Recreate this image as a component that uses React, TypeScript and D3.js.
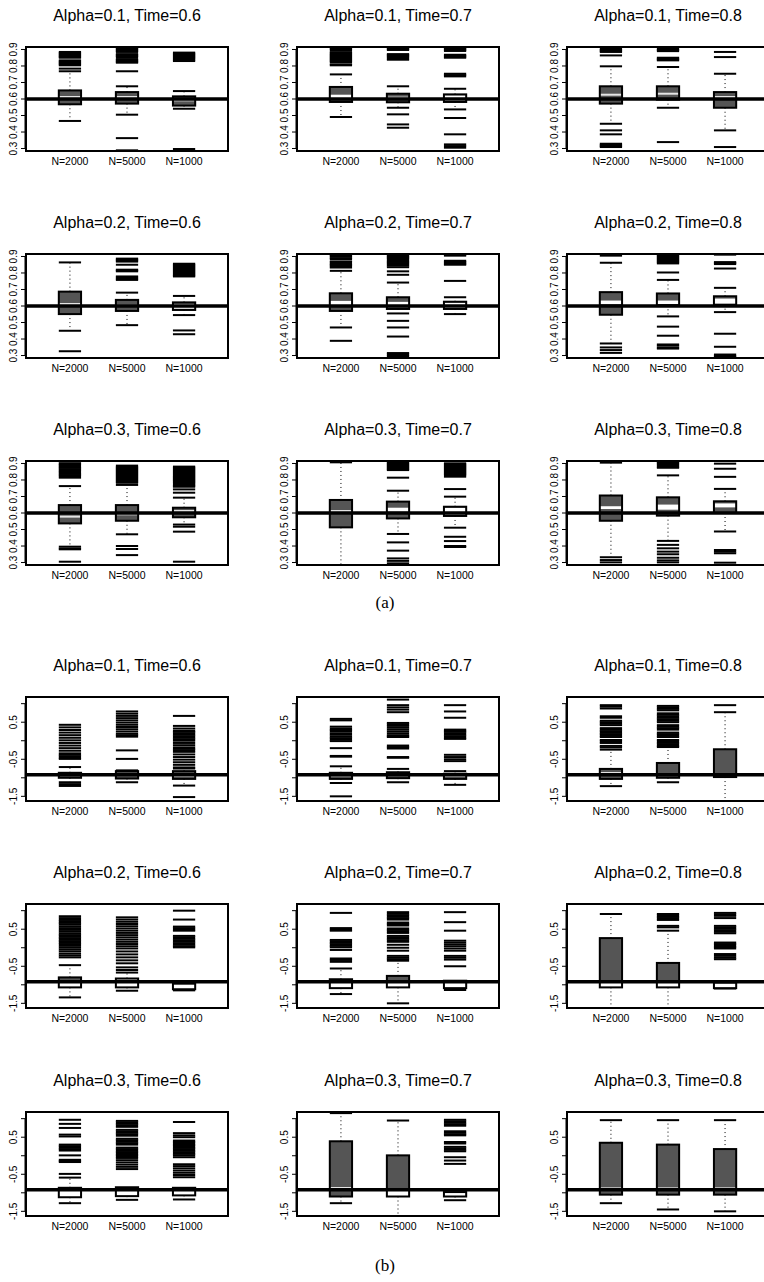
import * as d3 from "d3";

const groups = ["N=2000", "N=5000", "N=1000"];
const alphas = ["0.1", "0.2", "0.3"];
const times = ["0.6", "0.7", "0.8"];

const ticksA = [0.3, 0.4, 0.5, 0.6, 0.7, 0.8, 0.9];
const tickLabelsA = ["0.3", "0.4", "0.5", "0.6", "0.7", "0.8", "0.9"];
const ticksB = [-1.5, -1, -0.5, 0, 0.5, 1];
const tickLabelsB = ["-1.5", "", "-0.5", "", "0.5", ""];
const domainA = [0.285, 0.915];
const domainB = [-1.626, 1.18];
const trueA = 0.6;
const trueB = -0.92;

// per box: [lower whisker, q1, median band low, median band high, q3, upper whisker]
const boxesA: number[][][] = [
  [[0.467, 0.568, 0.612, 0.612, 0.652, 0.768], [0.505, 0.572, 0.612, 0.612, 0.642, 0.677], [0.541, 0.56, 0.592, 0.592, 0.616, 0.648]],
  [[0.491, 0.582, 0.605, 0.626, 0.673, 0.749], [0.547, 0.58, 0.608, 0.608, 0.632, 0.677], [0.537, 0.582, 0.587, 0.622, 0.628, 0.662]],
  [[0.45, 0.572, 0.626, 0.626, 0.677, 0.798], [0.547, 0.596, 0.632, 0.632, 0.677, 0.794], [0.41, 0.547, 0.612, 0.612, 0.642, 0.753]],
  [[0.45, 0.551, 0.612, 0.612, 0.687, 0.864], [0.484, 0.57, 0.602, 0.602, 0.637, 0.681], [0.545, 0.576, 0.583, 0.612, 0.622, 0.661]],
  [[0.47, 0.57, 0.606, 0.631, 0.677, 0.813], [0.555, 0.582, 0.592, 0.625, 0.653, 0.742], [0.551, 0.582, 0.588, 0.62, 0.626, 0.653]],
  [[0.373, 0.547, 0.612, 0.633, 0.684, 0.862], [0.537, 0.604, 0.612, 0.633, 0.676, 0.758], [0.563, 0.608, 0.61, 0.645, 0.659, 0.71]],
  [[0.396, 0.537, 0.578, 0.578, 0.648, 0.763], [0.471, 0.553, 0.592, 0.592, 0.648, 0.77], [0.53, 0.574, 0.612, 0.612, 0.632, 0.693]],
  [[0.278, 0.513, 0.612, 0.612, 0.679, 0.907], [0.473, 0.567, 0.608, 0.632, 0.669, 0.735], [0.511, 0.582, 0.59, 0.632, 0.638, 0.699]],
  [[0.332, 0.553, 0.624, 0.641, 0.706, 0.905], [0.431, 0.584, 0.62, 0.651, 0.695, 0.828], [0.488, 0.6, 0.634, 0.658, 0.671, 0.746]],
];

const outliersA: number[][][] = [
  [
    [0.885, 0.879, 0.873, 0.867, 0.861, 0.855, 0.85, 0.834, 0.828, 0.822, 0.816, 0.81, 0.804, 0.784],
    [0.909, 0.903, 0.897, 0.891, 0.885, 0.872, 0.866, 0.86, 0.854, 0.842, 0.836, 0.83, 0.824, 0.82, 0.768, 0.363, 0.289],
    [0.881, 0.875, 0.869, 0.863, 0.857, 0.851, 0.845, 0.838, 0.83, 0.297],
  ],
  [
    [0.909, 0.902, 0.895, 0.884, 0.877, 0.871, 0.865, 0.859, 0.853, 0.847, 0.841, 0.835, 0.829, 0.823, 0.81, 0.804],
    [0.909, 0.903, 0.897, 0.872, 0.866, 0.86, 0.853, 0.845, 0.838, 0.507, 0.446, 0.426],
    [0.909, 0.903, 0.897, 0.891, 0.868, 0.862, 0.856, 0.85, 0.753, 0.745, 0.737, 0.485, 0.386, 0.325, 0.315, 0.305],
  ],
  [
    [0.903, 0.897, 0.891, 0.885, 0.864, 0.41, 0.386, 0.329, 0.322, 0.315, 0.309],
    [0.903, 0.897, 0.89, 0.85, 0.844, 0.838, 0.834, 0.339],
    [0.885, 0.854, 0.309],
  ],
  [
    [0.326],
    [0.887, 0.881, 0.875, 0.869, 0.85, 0.82, 0.815, 0.81, 0.779, 0.772, 0.765, 0.758],
    [0.856, 0.85, 0.844, 0.838, 0.832, 0.826, 0.82, 0.814, 0.808, 0.802, 0.796, 0.79, 0.784, 0.779, 0.452, 0.429],
  ],
  [
    [0.911, 0.905, 0.899, 0.89, 0.884, 0.87, 0.864, 0.855, 0.848, 0.84, 0.833, 0.389],
    [0.907, 0.901, 0.895, 0.889, 0.882, 0.874, 0.867, 0.86, 0.852, 0.845, 0.835, 0.81, 0.789, 0.51, 0.47, 0.415, 0.315, 0.306, 0.297],
    [0.911, 0.905, 0.874, 0.868, 0.862, 0.855, 0.85, 0.752],
  ],
  [
    [0.905, 0.349, 0.333, 0.316],
    [0.912, 0.906, 0.9, 0.894, 0.888, 0.882, 0.876, 0.87, 0.864, 0.858, 0.803, 0.475, 0.42, 0.367, 0.36, 0.348, 0.342],
    [0.911, 0.866, 0.86, 0.854, 0.827, 0.432, 0.353, 0.306, 0.298, 0.291],
  ],
  [
    [0.911, 0.9, 0.894, 0.888, 0.88, 0.874, 0.866, 0.858, 0.852, 0.845, 0.838, 0.83, 0.822, 0.814, 0.385, 0.38, 0.305],
    [0.887, 0.879, 0.873, 0.867, 0.861, 0.855, 0.849, 0.843, 0.837, 0.831, 0.825, 0.819, 0.813, 0.807, 0.801, 0.795, 0.789, 0.783, 0.4, 0.382, 0.345],
    [0.881, 0.875, 0.869, 0.863, 0.857, 0.851, 0.845, 0.839, 0.833, 0.827, 0.821, 0.815, 0.809, 0.803, 0.797, 0.791, 0.785, 0.779, 0.771, 0.765, 0.759, 0.743, 0.723, 0.517, 0.487, 0.305],
  ],
  [
    [],
    [0.907, 0.901, 0.895, 0.889, 0.883, 0.877, 0.871, 0.865, 0.86, 0.814, 0.422, 0.372, 0.325, 0.31, 0.295],
    [0.901, 0.895, 0.889, 0.883, 0.877, 0.871, 0.865, 0.859, 0.853, 0.847, 0.841, 0.835, 0.829, 0.82, 0.745, 0.456, 0.43, 0.4, 0.394],
  ],
  [
    [0.315, 0.301],
    [0.915, 0.909, 0.903, 0.895, 0.888, 0.88, 0.874, 0.407, 0.386, 0.366, 0.35, 0.329, 0.313, 0.301],
    [0.899, 0.868, 0.819, 0.376, 0.366, 0.356, 0.299],
  ],
];

const boxesB: number[][][] = [
  [[-1.22, -1.0, -0.93, -0.93, -0.865, -0.71], [-1.12, -1.02, -0.93, -0.93, -0.82, -0.8], [-1.21, -1.03, -0.95, -0.95, -0.82, -0.75]],
  [[-1.14, -1.03, -0.94, -0.94, -0.865, -0.69], [-1.12, -1.01, -0.93, -0.93, -0.85, -0.76], [-1.19, -1.03, -0.95, -0.95, -0.89, -0.82]],
  [[-1.225, -1.03, -0.92, -0.87, -0.76, -0.24], [-1.12, -1.0, -0.93, -0.9, -0.6, -0.17], [-1.66, -0.98, -0.93, -0.93, -0.23, 0.77]],
  [[-1.34, -1.07, -1.07, -0.93, -0.8, -0.47], [-1.16, -1.07, -1.07, -0.85, -0.83, -0.67], [-1.15, -1.12, -1.12, -0.97, -0.97, -0.97]],
  [[-1.25, -1.09, -1.09, -0.93, -0.85, -0.56], [-1.5, -1.07, -1.07, -0.93, -0.76, -0.35], [-1.14, -1.09, -1.09, -0.95, -0.89, -0.89]],
  [[-1.66, -1.07, -1.07, -0.93, 0.26, 0.91], [-1.66, -1.07, -1.07, -0.93, -0.41, 0.46], [-1.1, -1.09, -1.09, -0.94, -0.94, -0.94]],
  [[-1.28, -1.12, -1.12, -0.87, -0.865, -0.59], [-1.19, -1.09, -1.09, -0.87, -0.85, -0.85], [-1.18, -1.07, -1.07, -0.87, -0.865, -0.865]],
  [[-1.28, -1.1, -0.87, -0.87, 0.39, 1.15], [-1.66, -1.1, -1.1, -0.92, 0.01, 0.95], [-1.2, -1.1, -1.1, -0.98, -0.98, -0.98]],
  [[-1.28, -1.05, -0.88, -0.88, 0.35, 0.96], [-1.45, -1.05, -0.88, -0.88, 0.3, 0.96], [-1.5, -1.05, -0.88, -0.88, 0.18, 0.96]],
];

const outliersB: number[][][] = [
  [
    [0.43, 0.36, 0.29, 0.22, 0.15, 0.08, 0.01, -0.06, -0.13, -0.2, -0.27, -0.34, -0.38, -0.42, -0.46, -0.49, -1.12, -1.17],
    [0.79, 0.73, 0.67, 0.61, 0.55, 0.49, 0.43, 0.37, 0.31, 0.25, 0.19, 0.15, 0.11, -0.26, -0.49],
    [0.67, 0.4, 0.33, 0.27, 0.24, 0.2, 0.16, 0.12, 0.08, 0.04, 0.0, -0.06, -0.12, -0.18, -0.22, -0.26, -0.3, -0.37, -0.44, -0.51, -0.58, -0.65, -0.72, -1.52],
  ],
  [
    [0.59, 0.55, 0.38, 0.33, 0.29, 0.25, 0.2, 0.16, 0.11, 0.07, 0.03, -0.01, -0.2, -0.41, -0.43, -1.5],
    [1.11, 0.96, 0.9, 0.84, 0.77, 0.48, 0.44, 0.4, 0.35, 0.3, 0.25, 0.2, 0.15, 0.12, 0.1, -0.13, -0.17, -0.21, -0.44, -0.46],
    [0.96, 0.79, 0.62, 0.3, 0.27, 0.24, 0.2, 0.16, 0.12, 0.08, 0.05, -0.38, -0.44, -0.5, -0.55],
  ],
  [
    [0.96, 0.92, 0.87, 0.66, 0.62, 0.54, 0.5, 0.46, 0.42, 0.34, 0.3, 0.26, 0.22, 0.18, 0.14, 0.1, 0.02, -0.02, -0.06, -0.14, -0.18],
    [0.94, 0.9, 0.86, 0.82, 0.74, 0.7, 0.66, 0.62, 0.58, 0.54, 0.5, 0.42, 0.38, 0.34, 0.3, 0.22, 0.18, 0.14, 0.1, 0.02, -0.02, -0.06, -0.1, -0.14],
    [0.96],
  ],
  [
    [0.85, 0.8, 0.75, 0.71, 0.67, 0.63, 0.58, 0.53, 0.48, 0.43, 0.38, 0.34, 0.3, 0.26, 0.22, 0.18, 0.14, 0.1, 0.05, 0, -0.05, -0.1, -0.16, -0.21, -0.26],
    [0.82, 0.76, 0.7, 0.64, 0.58, 0.52, 0.46, 0.4, 0.34, 0.28, 0.22, 0.16, 0.1, 0.04, -0.02, -0.1, -0.18, -0.26, -0.34, -0.42, -0.53, -0.6],
    [1.0, 0.76, 0.57, 0.53, 0.49, 0.46, 0.32, 0.28, 0.24, 0.2, 0.16, 0.12, 0.08, 0.04, 0.01],
  ],
  [
    [0.94, 0.53, 0.49, 0.46, 0.21, 0.17, 0.13, 0.09, 0.05, 0.01, -0.06, -0.29, -0.33, -0.38],
    [0.96, 0.92, 0.88, 0.84, 0.8, 0.76, 0.68, 0.64, 0.6, 0.52, 0.48, 0.44, 0.4, 0.32, 0.28, 0.24, 0.2, 0.16, 0.08, 0, -0.08, -0.22, -0.27, -0.31],
    [0.96, 0.69, 0.46, 0.19, 0.14, 0.09, 0.04, -0.02, -0.08, -0.22, -0.27, -0.32, -0.5],
  ],
  [
    [],
    [0.91, 0.87, 0.83, 0.79, 0.75, 0.59, 0.55],
    [0.94, 0.9, 0.86, 0.8, 0.59, 0.55, 0.51, 0.47, 0.43, 0.39, 0.14, 0.1, 0.06, 0.02, -0.02, -0.17, -0.22, -0.27, -0.31],
  ],
  [
    [0.97, 0.86, 0.75, 0.57, 0.52, 0.3, 0.26, 0.22, 0.18, 0.14, 0.01, -0.11, -0.14, -0.17, -0.49],
    [0.94, 0.9, 0.86, 0.82, 0.78, 0.7, 0.66, 0.62, 0.58, 0.54, 0.46, 0.42, 0.38, 0.34, 0.3, 0.22, 0.18, 0.14, 0.1, 0.06, 0.02, -0.02, -0.06, -0.12, -0.18, -0.24, -0.3, -0.36],
    [0.91, 0.61, 0.55, 0.5, 0.41, 0.37, 0.33, 0.29, 0.25, 0.21, 0.17, 0.13, 0.09, 0.05, 0.01, -0.04, -0.23, -0.28, -0.34, -0.4, -0.46, -0.52, -0.58],
  ],
  [
    [],
    [],
    [0.97, 0.93, 0.89, 0.85, 0.81, 0.66, 0.62, 0.58, 0.55, 0.37, 0.33, 0.24, 0.2, 0.16, 0.12, -0.04, -0.13, -0.22],
  ],
  [[], [], []],
];

const SANS = "'Liberation Sans', Arial, sans-serif";
const SERIF = "'Liberation Serif', 'Times New Roman', serif";
const PW = 202;
const PH = 104;
const colLeft = [26, 297, 567];
const rowTopA = [47, 254, 461];
const rowTopB = [697, 904, 1112];

interface PanelProps {
  id: string;
  left: number;
  top: number;
  title: string;
  boxes: number[][];
  outliers: number[][];
  domain: number[];
  ticks: number[];
  tickLabels: string[];
  trueValue: number;
}

function Panel({ id, left, top, title, boxes, outliers, domain, ticks, tickLabels, trueValue }: PanelProps) {
  const x = d3.scalePoint<string>().domain(groups).range([0, PW]).padding(0.77);
  const y = d3.scaleLinear().domain(domain).range([PH, 0]);
  const bw = x.step() * 0.39;

  return (
    <g transform={`translate(${left},${top})`}>
      <defs>
        <clipPath id={id}>
          <rect x={0} y={0} width={PW} height={PH} />
        </clipPath>
      </defs>
      <text x={PW / 2} y={-26} textAnchor="middle" fontFamily={SANS} fontSize={16}>
        {title}
      </text>
      <rect width={PW} height={PH} fill="#fff" />
      <g clipPath={`url(#${id})`}>
        {groups.map((g, i) => {
          const [lo, q1, mLo, mHi, q3, hi] = boxes[i];
          const cx = x(g)!;
          const x0 = cx - bw / 2;
          const x1 = cx + bw / 2;
          const bandPx = y(mLo) - y(mHi);
          return (
            <g key={g}>
              {hi > q3 && (
                <>
                  <line x1={cx} x2={cx} y1={y(q3)} y2={y(hi)} stroke="#000" strokeWidth={1} strokeDasharray="1 3" />
                  <line x1={x0} x2={x1} y1={y(hi)} y2={y(hi)} stroke="#000" strokeWidth={2} />
                </>
              )}
              {lo < q1 && (
                <>
                  <line x1={cx} x2={cx} y1={y(q1)} y2={y(lo)} stroke="#000" strokeWidth={1} strokeDasharray="1 3" />
                  <line x1={x0} x2={x1} y1={y(lo)} y2={y(lo)} stroke="#000" strokeWidth={2} />
                </>
              )}
              {outliers[i].map((v, k) => (
                <line key={k} x1={x0} x2={x1} y1={y(v)} y2={y(v)} stroke="#000" strokeWidth={2} />
              ))}
              <rect x={x0} y={y(q3)} width={bw} height={y(q1) - y(q3)} fill="#555" />
              {bandPx < 2 ? (
                <line x1={x0} x2={x1} y1={y(mHi)} y2={y(mHi)} stroke="#e4e4e4" strokeWidth={2} />
              ) : (
                <rect x={x0} y={y(mHi)} width={bw} height={bandPx} fill="#fff" />
              )}
              <rect x={x0} y={y(q3)} width={bw} height={y(q1) - y(q3)} fill="none" stroke="#000" strokeWidth={2} />
            </g>
          );
        })}
        <line x1={0} x2={PW} y1={y(trueValue)} y2={y(trueValue)} stroke="#000" strokeWidth={3.5} />
      </g>
      <rect width={PW} height={PH} fill="none" stroke="#000" strokeWidth={2} />
      <line x1={-1} x2={-1} y1={y(ticks[0])} y2={y(ticks[ticks.length - 1])} stroke="#000" strokeWidth={1} />
      {ticks.map((t, i) => (
        <g key={t} transform={`translate(0,${y(t)})`}>
          <line x1={-5} x2={-1} stroke="#000" strokeWidth={1} />
          {tickLabels[i] && (
            <text transform="translate(-9,0) rotate(-90)" textAnchor="middle" fontFamily={SANS} fontSize={10}>
              {tickLabels[i]}
            </text>
          )}
        </g>
      ))}
      {groups.map((g) => (
        <text key={g} x={x(g)} y={PH + 14} textAnchor="middle" fontFamily={SANS} fontSize={10.5}>
          {g}
        </text>
      ))}
    </g>
  );
}

export default function App() {
  const panels: JSX.Element[] = [];
  alphas.forEach((a, r) => {
    times.forEach((t, c) => {
      const k = r * 3 + c;
      panels.push(
        <Panel
          key={`a${k}`}
          id={`clipA${k}`}
          left={colLeft[c]}
          top={rowTopA[r]}
          title={`Alpha=${a}, Time=${t}`}
          boxes={boxesA[k]}
          outliers={outliersA[k]}
          domain={domainA}
          ticks={ticksA}
          tickLabels={tickLabelsA}
          trueValue={trueA}
        />
      );
      panels.push(
        <Panel
          key={`b${k}`}
          id={`clipB${k}`}
          left={colLeft[c]}
          top={rowTopB[r]}
          title={`Alpha=${a}, Time=${t}`}
          boxes={boxesB[k]}
          outliers={outliersB[k]}
          domain={domainB}
          ticks={ticksB}
          tickLabels={tickLabelsB}
          trueValue={trueB}
        />
      );
    });
  });

  return (
    <svg
      width={764}
      height={1282}
      style={{ position: "absolute", left: 0, top: 0, background: "#fff" }}
    >
      <rect width={764} height={1282} fill="#fff" />
      {panels}
      <text x={385} y={608} textAnchor="middle" fontFamily={SERIF} fontSize={17}>
        (a)
      </text>
      <text x={385} y={1271} textAnchor="middle" fontFamily={SERIF} fontSize={17}>
        (b)
      </text>
    </svg>
  );
}
